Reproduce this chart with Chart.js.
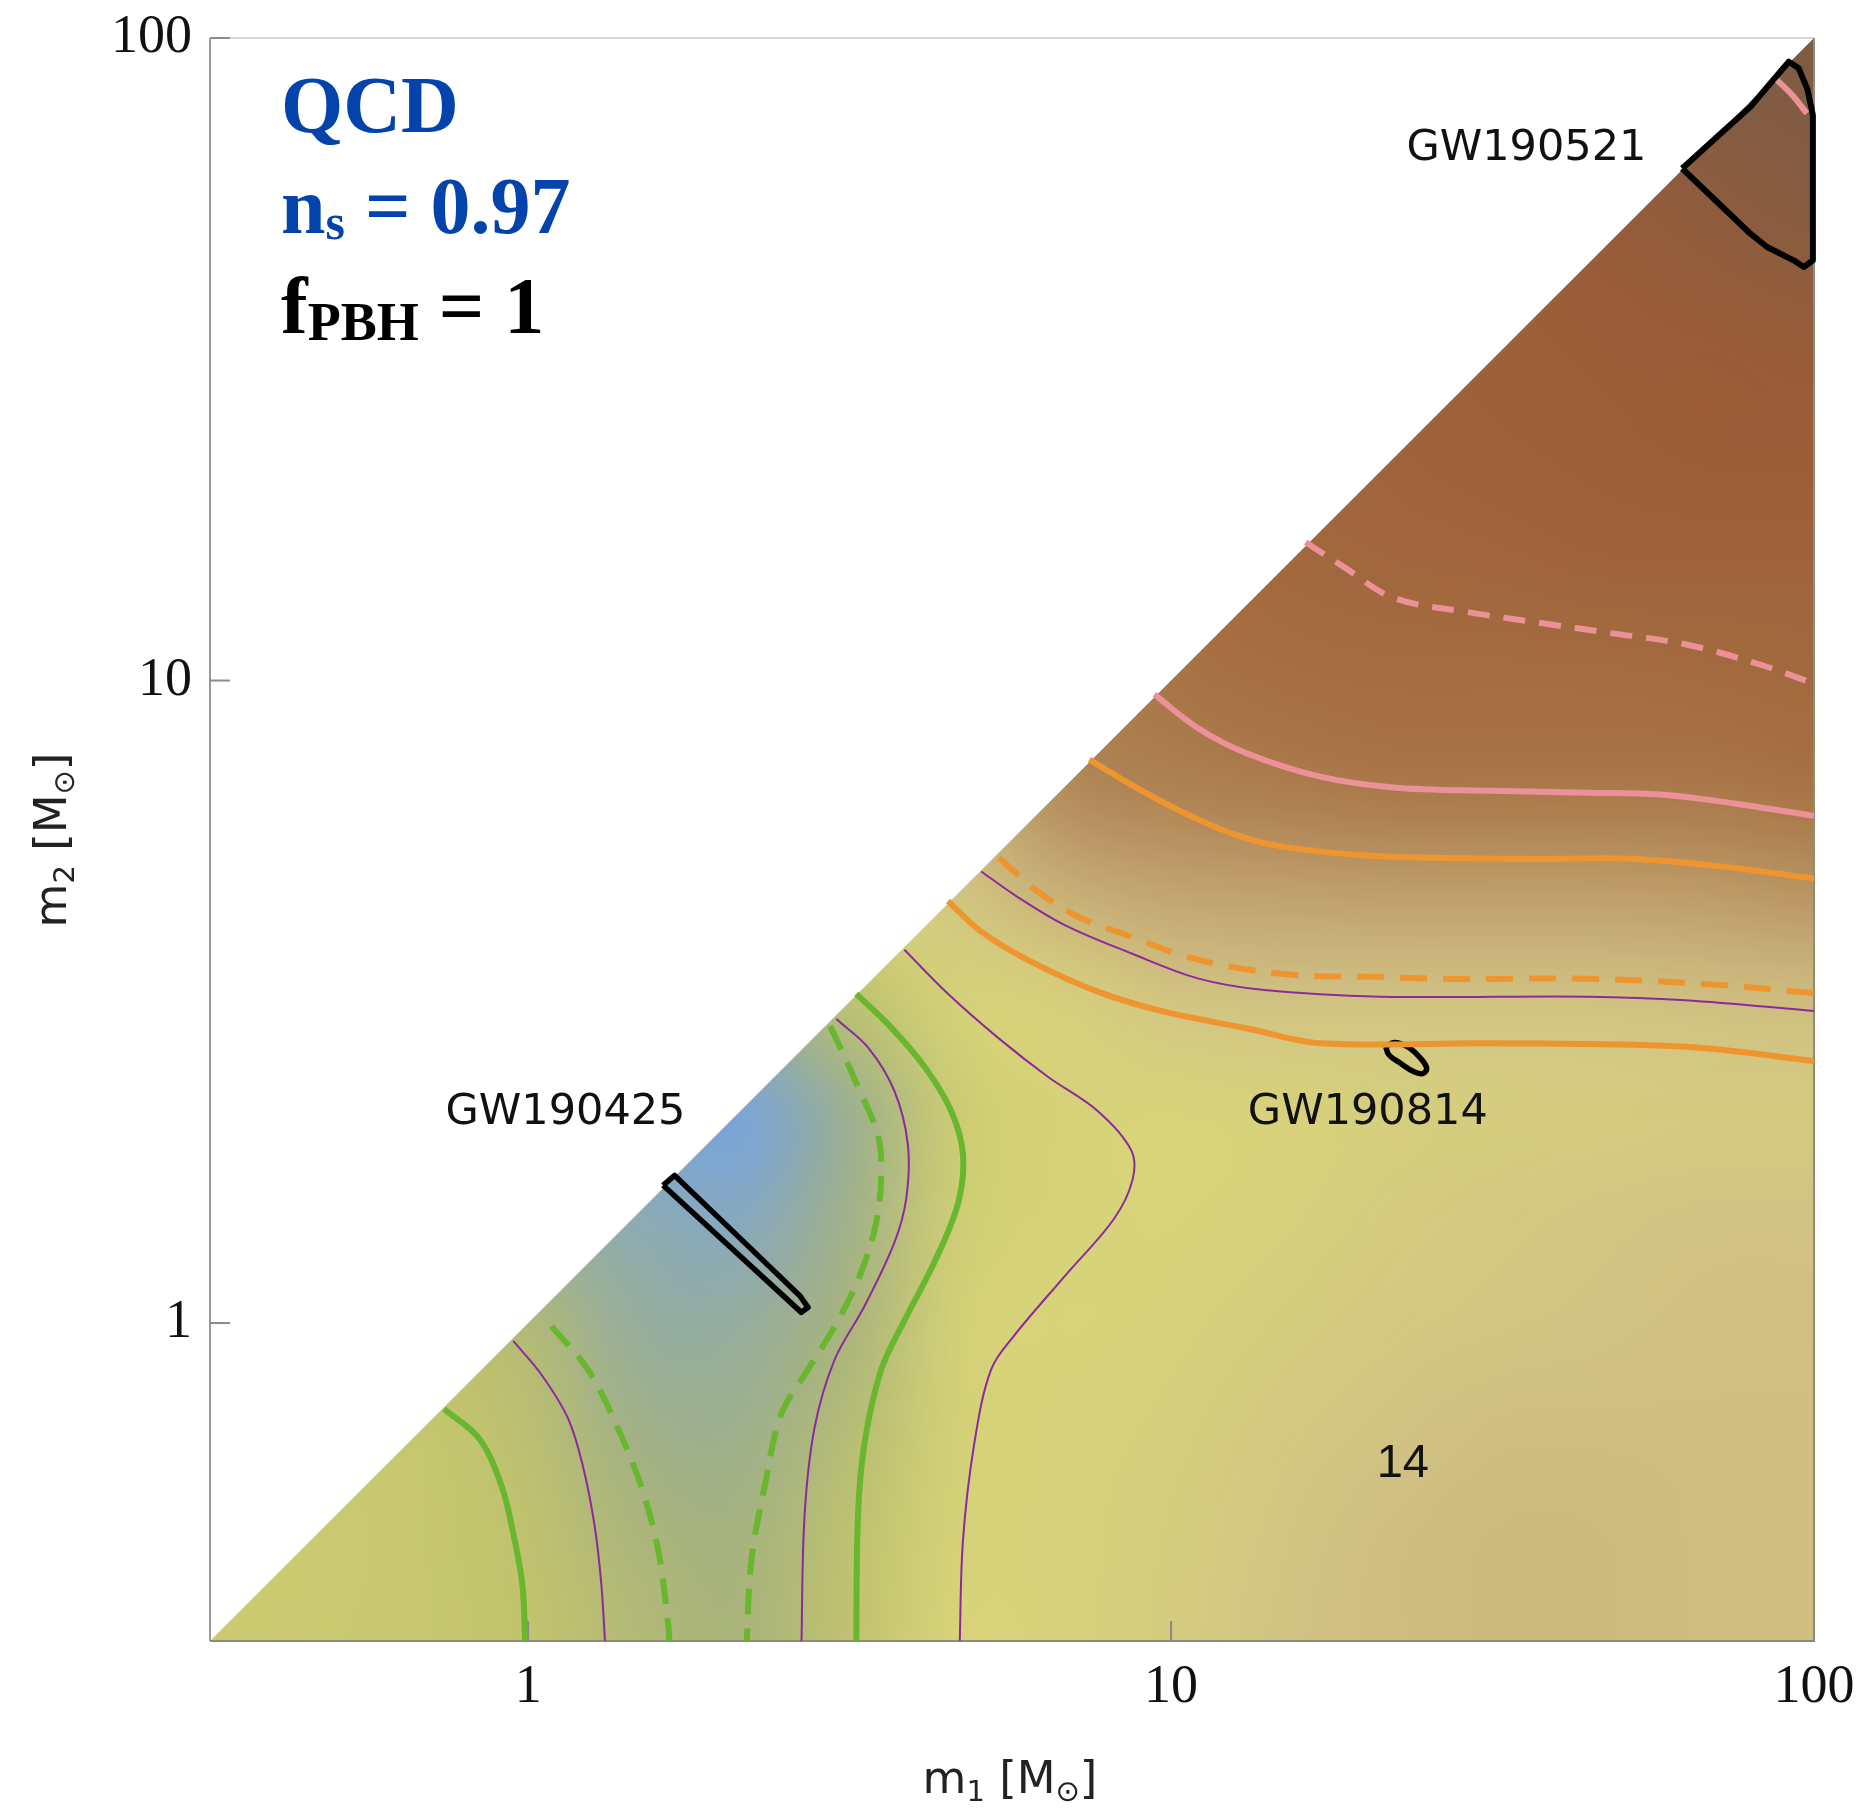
<!DOCTYPE html>
<html>
<head>
<meta charset="utf-8">
<title>QCD PBH binary mass plane</title>
<script src="https://cdn.jsdelivr.net/npm/chart.js@4.4.1/dist/chart.umd.min.js"></script>
<style>
  html, body { margin: 0; padding: 0; background: #fff; }
  #massPlane { display: block; }
</style>
</head>
<body>
<canvas id="massPlane" width="1864" height="1809"></canvas>
<script>
// ---- axes ----
const tickValues = [1, 10, 100];
const massMin = 0.32;
const massMax = 100;

// ---- background field: nodes in m1 / m2 (same for both), level per node [m2 row][m1 column] ----
const fieldNodes = [0.316, 0.464, 0.681, 1, 1.468, 2.154, 3.162, 4.642, 6.813, 10, 14.68, 21.54, 31.62, 46.42, 68.13, 100];
const n_ = null;
const fieldLevels = [
  [4.4, 4.3, 4.2, 4.0, 3.4, 3.0, 3.9, 5.0, 5.1, 5.5, 6.0, 6.2, 6.3, 6.3, 6.2, 6.2],
  [n_, 4.4, 4.2, 3.9, 3.1, 2.8, 3.8, 4.9, 5.1, 5.4, 5.9, 6.2, 6.3, 6.3, 6.2, 6.2],
  [n_, n_, 4.2, 3.7, 2.5, 2.3, 3.5, 4.8, 5.1, 5.3, 5.7, 6.0, 6.2, 6.2, 6.2, 6.2],
  [n_, n_, n_, 3.4, 1.8, 1.8, 3.0, 4.8, 5.0, 5.1, 5.4, 5.7, 5.9, 6.0, 6.1, 6.1],
  [n_, n_, n_, n_, 1.3, 0.9, 2.5, 4.6, 4.9, 5.0, 5.2, 5.5, 5.7, 5.9, 6.0, 6.0],
  [n_, n_, n_, n_, n_, 0.1, 2.2, 4.5, 4.9, 5.0, 5.1, 5.3, 5.4, 5.5, 5.6, 5.6],
  [n_, n_, n_, n_, n_, n_, 3.8, 4.9, 5.2, 5.9, 6.0, 6.0, 6.0, 6.0, 6.1, 6.2],
  [n_, n_, n_, n_, n_, n_, n_, 5.8, 6.7, 7.1, 7.2, 7.3, 7.3, 7.3, 7.4, 7.6],
  [n_, n_, n_, n_, n_, n_, n_, n_, 8.0, 8.3, 8.5, 8.7, 8.7, 8.7, 8.7, 8.9],
  [n_, n_, n_, n_, n_, n_, n_, n_, n_, 8.8, 9.0, 9.1, 9.1, 9.1, 9.2, 9.3],
  [n_, n_, n_, n_, n_, n_, n_, n_, n_, n_, 9.3, 9.4, 9.5, 9.6, 9.6, 9.6],
  [n_, n_, n_, n_, n_, n_, n_, n_, n_, n_, n_, 9.6, 9.7, 9.8, 9.9, 9.9],
  [n_, n_, n_, n_, n_, n_, n_, n_, n_, n_, n_, n_, 9.8, 9.9, 10.0, 10.1],
  [n_, n_, n_, n_, n_, n_, n_, n_, n_, n_, n_, n_, n_, 10.1, 10.3, 10.5],
  [n_, n_, n_, n_, n_, n_, n_, n_, n_, n_, n_, n_, n_, n_, 10.6, 10.8],
  [n_, n_, n_, n_, n_, n_, n_, n_, n_, n_, n_, n_, n_, n_, n_, 11.0]
];

// ---- contour curves (m1, m2 in solar masses) ----
const greenSolidLowM1 = [0.74, 0.84, 0.91, 0.95, 0.98, 0.99];
const greenSolidLowM2 = [0.735, 0.66, 0.556, 0.466, 0.39, 0.31];

const purpleLowM1 = [0.948, 1.049, 1.154, 1.218, 1.269, 1.300, 1.319];
const purpleLowM2 = [0.938, 0.831, 0.710, 0.596, 0.483, 0.391, 0.31];

const greenDashLowM1 = [1.087, 1.240, 1.380, 1.500, 1.593, 1.651, 1.661];
const greenDashLowM2 = [0.989, 0.845, 0.685, 0.556, 0.443, 0.340, 0.31];

const greenDashMidM1 = [2.95, 3.258, 3.499, 3.542, 3.477, 3.296, 3.033, 2.725, 2.476, 2.332, 2.224, 2.185];
const greenDashMidM2 = [2.90, 2.334, 1.960, 1.704, 1.431, 1.201, 1.009, 0.847, 0.722, 0.556, 0.427, 0.31];

const purpleMidM1 = [3.015, 3.377, 3.713, 3.896, 3.873, 3.713, 3.336, 2.997, 2.789, 2.691, 2.660];
const purpleMidM2 = [2.972, 2.685, 2.295, 1.893, 1.562, 1.335, 1.063, 0.877, 0.687, 0.501, 0.31];

const greenSolidMidM1 = [3.238, 3.671, 4.136, 4.549, 4.746, 4.661, 4.285, 3.848, 3.542, 3.336, 3.258, 3.238];
const greenSolidMidM2 = [3.254, 2.883, 2.505, 2.138, 1.828, 1.534, 1.244, 1.009, 0.847, 0.651, 0.501, 0.31];

const purpleSaddleM1 = [3.848, 4.497, 5.377, 6.432, 7.688, 8.664, 8.716, 8.163, 6.823, 5.705, 5.250, 4.944, 4.746, 4.688];
const purpleSaddleM2 = [3.810, 3.254, 2.781, 2.417, 2.138, 1.860, 1.675, 1.456, 1.181, 0.957, 0.847, 0.651, 0.459, 0.31];

const orangeLowM1 = [4.497, 5.067, 6.056, 7.688, 9.761, 13.15, 17.06, 31.41, 63.07, 100];
const orangeLowM2 = [4.539, 4.067, 3.652, 3.280, 3.052, 2.874, 2.726, 2.726, 2.692, 2.558];

const purpleHighM1 = [5.067, 5.705, 6.823, 8.664, 11.0, 13.96, 21.19, 44.5, 63.07, 100];
const purpleHighM2 = [5.045, 4.640, 4.167, 3.763, 3.439, 3.298, 3.221, 3.221, 3.180, 3.060];

const orangeDashM1 = [5.4, 6.202, 7.244, 8.664, 10.36, 12.39, 15.73, 21.19, 26.37, 44.5, 68.8, 100];
const orangeDashM2 = [5.3, 4.695, 4.266, 3.996, 3.741, 3.585, 3.479, 3.459, 3.433, 3.433, 3.368, 3.262];

const orangeHighM1 = [7.464, 8.664, 10.36, 12.39, 14.81, 21.19, 37.37, 53.0, 75.1, 100];
const orangeHighM2 = [7.533, 6.887, 6.256, 5.789, 5.519, 5.325, 5.277, 5.277, 5.110, 4.918];

const pinkSolidM1 = [9.42, 11.0, 13.13, 17.06, 22.15, 31.40, 44.5, 57.8, 75.1, 100];
const pinkSolidM2 = [9.512, 8.437, 7.70, 7.085, 6.818, 6.734, 6.691, 6.648, 6.437, 6.155];

const pinkDashM1 = [16.19, 18.61, 22.16, 28.77, 37.37, 48.54, 63.07, 81.9, 100];
const pinkDashM2 = [16.41, 15.0, 13.45, 12.79, 12.30, 11.84, 11.39, 10.61, 9.89];

const pinkCornerM1 = [87.6, 92.5, 97.5];
const pinkCornerM2 = [86.0, 81.5, 76.3];

// ---- event regions ----
const gw190521M1 = [62.36, 70.69, 79.64, 91.36, 94.67, 97.66, 99.6, 99.6, 96.41, 92.98, 84.53, 79.64, 62.36];
const gw190521M2 = [62.65, 70.19, 78.18, 91.86, 89.69, 83.23, 75.88, 45.08, 44.02, 45.08, 47.28, 49.59, 62.65];

const gw190425M1 = [1.621, 1.690, 2.123, 2.643, 2.725, 2.660, 2.123, 1.621];
const gw190425M2 = [1.638, 1.697, 1.363, 1.104, 1.058, 1.039, 1.278, 1.638];

const gw190814M1 = [21.57, 22.23, 23.32, 24.45, 24.98, 24.60, 23.87, 22.77, 21.83, 21.57];
const gw190814M2 = [2.692, 2.733, 2.692, 2.581, 2.489, 2.445, 2.460, 2.535, 2.613, 2.692];

// ---- in-plot labels (text, m1, m2 of the baseline centre) ----
const plotLabels = [
  ['GW190521', 35.7, 64.6],
  ['GW190425', 1.143, 2.04],
  ['GW190814', 20.23, 2.04],
  ['14', 22.93, 0.575]
];

// ---- styles ----
const GREEN = '#69b62f';
const ORANGE = '#ef952f';
const PINK = '#ec9198';
const PURPLE = '#8c2a9c';
const levelStops = ['#76a3e0', '#87a9bf', '#98ae94', '#a9b47b', '#c2c46c', '#d8d47a',
                    '#d1c383', '#c4a873', '#b2895a', '#a66f41', '#9b5c38', '#7c5c44'];

function hexRgb(h) {
  return [parseInt(h.slice(1, 3), 16), parseInt(h.slice(3, 5), 16), parseInt(h.slice(5, 7), 16)];
}
const stopRgb = levelStops.map(hexRgb);

function levelColour(lv) {
  const top = stopRgb.length - 1;
  const v = Math.max(0, Math.min(top, lv));
  const k = Math.min(top - 1, Math.floor(v));
  const t = v - k;
  return stopRgb[k].map((c, i) => Math.round(c + (stopRgb[k + 1][i] - c) * t));
}

function pts(m1, m2) {
  return m1.map((v, k) => ({ x: v, y: m2[k] }));
}

function curve(m1, m2, colour, width, dash, extra) {
  return Object.assign({
    data: pts(m1, m2),
    showLine: true,
    borderColor: colour,
    backgroundColor: colour,
    borderWidth: width,
    borderDash: dash || [],
    borderCapStyle: 'butt',
    borderJoinStyle: 'round',
    pointRadius: 0,
    pointHoverRadius: 0,
    tension: 0.35,
    fill: false
  }, extra || {});
}

const datasets = [
  curve(greenSolidLowM1, greenSolidLowM2, GREEN, 6),
  curve(purpleLowM1, purpleLowM2, PURPLE, 2),
  curve(greenDashLowM1, greenDashLowM2, GREEN, 6, [26, 14]),
  curve(greenDashMidM1, greenDashMidM2, GREEN, 6, [26, 14]),
  curve(purpleMidM1, purpleMidM2, PURPLE, 2),
  curve(greenSolidMidM1, greenSolidMidM2, GREEN, 6),
  curve(purpleSaddleM1, purpleSaddleM2, PURPLE, 2),
  curve(orangeLowM1, orangeLowM2, ORANGE, 6),
  curve(purpleHighM1, purpleHighM2, PURPLE, 2),
  curve(orangeDashM1, orangeDashM2, ORANGE, 6, [27, 16]),
  curve(orangeHighM1, orangeHighM2, ORANGE, 6),
  curve(pinkSolidM1, pinkSolidM2, PINK, 6),
  curve(pinkDashM1, pinkDashM2, PINK, 6, [22, 14]),
  curve(pinkCornerM1, pinkCornerM2, PINK, 6),
  curve(gw190521M1, gw190521M2, '#000', 6, null, { tension: 0, clip: false }),
  curve(gw190425M1, gw190425M2, '#000', 5.5, null, { tension: 0 }),
  curve(gw190814M1, gw190814M2, '#000', 5.5, null, { tension: 0.4 })
];

// colour field, frame and inward tick marks, drawn under the contour lines
const fieldPlugin = {
  id: 'massField',
  beforeDatasetsDraw(chart) {
    const { ctx, chartArea: a, scales: { x, y } } = chart;
    const n = fieldNodes.length;
    const tile = document.createElement('canvas');
    tile.width = n;
    tile.height = n;
    const tctx = tile.getContext('2d');
    const img = tctx.createImageData(n, n);
    for (let j = 0; j < n; j++) {
      for (let i = 0; i < n; i++) {
        const lv = j <= i ? fieldLevels[j][i] : fieldLevels[i][j];
        const [r, g, b] = levelColour(lv);
        const k = ((n - 1 - j) * n + i) * 4;
        img.data[k] = r; img.data[k + 1] = g; img.data[k + 2] = b; img.data[k + 3] = 255;
      }
    }
    tctx.putImageData(img, 0, 0);

    const x0 = x.getPixelForValue(fieldNodes[0]);
    const x1 = x.getPixelForValue(fieldNodes[n - 1]);
    const yTop = y.getPixelForValue(fieldNodes[n - 1]);
    const yBot = y.getPixelForValue(fieldNodes[0]);
    const dx = (x1 - x0) / (n - 1);
    const dy = (yBot - yTop) / (n - 1);

    ctx.save();
    ctx.beginPath();
    ctx.moveTo(x.getPixelForValue(massMin), y.getPixelForValue(massMin));
    ctx.lineTo(x.getPixelForValue(massMax), y.getPixelForValue(massMax));
    ctx.lineTo(x.getPixelForValue(massMax), y.getPixelForValue(massMin));
    ctx.closePath();
    ctx.clip();
    ctx.imageSmoothingEnabled = true;
    ctx.imageSmoothingQuality = 'high';
    ctx.filter = 'blur(6px)';
    ctx.drawImage(tile, x0 - dx / 2, yTop - dy / 2, dx * n, dy * n);
    ctx.restore();

    // frame
    ctx.save();
    ctx.lineWidth = 2;
    ctx.strokeStyle = '#d8d8d8';
    ctx.beginPath(); ctx.moveTo(a.left, a.top); ctx.lineTo(a.right, a.top); ctx.stroke();
    ctx.strokeStyle = '#9a9a9a';
    ctx.beginPath(); ctx.moveTo(a.left, a.top); ctx.lineTo(a.left, a.bottom); ctx.stroke();
    ctx.strokeStyle = '#8f8a7a';
    ctx.beginPath(); ctx.moveTo(a.left, a.bottom); ctx.lineTo(a.right, a.bottom); ctx.lineTo(a.right, a.top); ctx.stroke();

    // short inward tick marks
    ctx.strokeStyle = '#8a8a8a';
    for (const v of tickValues) {
      const px = x.getPixelForValue(v);
      const py = y.getPixelForValue(v);
      ctx.beginPath(); ctx.moveTo(px, a.bottom); ctx.lineTo(px, a.bottom - 20); ctx.stroke();
      ctx.beginPath(); ctx.moveTo(a.left, py); ctx.lineTo(a.left + 20, py); ctx.stroke();
    }
    ctx.restore();
  }
};

// draw a row of text runs: [text, font, vertical shift]
function drawRuns(ctx, x, y, runs) {
  for (const [t, font, dy] of runs) {
    ctx.font = font;
    ctx.fillText(t, x, y + dy);
    x += ctx.measureText(t).width;
  }
}
function runsWidth(ctx, runs) {
  let w = 0;
  for (const [t, font] of runs) { ctx.font = font; w += ctx.measureText(t).width; }
  return w;
}

const textPlugin = {
  id: 'plotText',
  afterDatasetsDraw(chart) {
    const { ctx, chartArea: a, scales: { x, y } } = chart;
    ctx.save();
    ctx.textBaseline = 'alphabetic';

    // event and contour labels
    for (const [txt, m1, m2] of plotLabels) {
      const isLevel = txt === '14';
      ctx.font = isLevel ? '47px "Liberation Sans"' : '43px "DejaVu Sans"';
      ctx.fillStyle = '#111';
      ctx.textAlign = 'center';
      ctx.fillText(txt, x.getPixelForValue(m1), y.getPixelForValue(m2));
    }

    // model annotation
    ctx.textAlign = 'left';
    const big = 'bold 80px "Liberation Serif"';
    const lx = a.left + 71;
    ctx.fillStyle = '#0443ab';
    drawRuns(ctx, lx, a.top + 94, [['QCD', big, 0]]);
    drawRuns(ctx, lx, a.top + 195, [['n', big, 0], ['s', 'bold 50px "Liberation Serif"', 6], [' = 0.97', big, 0]]);
    ctx.fillStyle = '#000';
    drawRuns(ctx, lx, a.top + 295, [['f', big, 0], ['PBH', 'bold 54px "Liberation Serif"', 7], [' = 1', big, 0]]);

    // axis titles with subscripts
    const tf = '45px "DejaVu Sans"';
    const sf = '29px "DejaVu Sans"';
    ctx.fillStyle = '#222';
    const xRuns = [['m', tf, 0], ['1', sf, 8], [' [M', tf, 0], ['\u2299', sf, 8], [']', tf, 0]];
    const xw = runsWidth(ctx, xRuns);
    drawRuns(ctx, 1010 - xw / 2, 1793, xRuns);

    const yRuns = [['m', tf, 0], ['2', sf, 8], [' [M', tf, 0], ['\u2299', sf, 8], [']', tf, 0]];
    const yw = runsWidth(ctx, yRuns);
    ctx.translate(66, 840);
    ctx.rotate(-Math.PI / 2);
    drawRuns(ctx, -yw / 2, 0, yRuns);
    ctx.restore();
  }
};

const tickFont = { family: '"Liberation Serif"', size: 54 };

new Chart(document.getElementById('massPlane').getContext('2d'), {
  type: 'scatter',
  data: { datasets: datasets },
  options: {
    responsive: false,
    devicePixelRatio: 1,
    animation: false,
    layout: { padding: { top: 38, right: 50, left: 0, bottom: 0 } },
    plugins: { legend: { display: false }, tooltip: { enabled: false } },
    scales: {
      x: {
        type: 'logarithmic',
        bounds: 'data',
        min: massMin,
        max: massMax,
        grid: { display: false, drawTicks: false },
        border: { display: false },
        afterFit: (s) => { s.height = 168; s.paddingLeft = 0; s.paddingRight = 0; },
        afterBuildTicks: (s) => { s.ticks = tickValues.map(v => ({ value: v })); },
        ticks: { font: tickFont, color: '#111', padding: 14, maxRotation: 0, autoSkip: false, callback: (v) => String(v) }
      },
      y: {
        type: 'logarithmic',
        bounds: 'data',
        min: massMin,
        max: massMax,
        grid: { display: false, drawTicks: false },
        border: { display: false },
        afterFit: (s) => { s.width = 210; s.paddingTop = 0; s.paddingBottom = 0; },
        afterBuildTicks: (s) => { s.ticks = tickValues.map(v => ({ value: v })); },
        ticks: { font: tickFont, color: '#111', padding: 18, autoSkip: false, callback: (v) => String(v) }
      }
    }
  },
  plugins: [fieldPlugin, textPlugin]
});
</script>
</body>
</html>
